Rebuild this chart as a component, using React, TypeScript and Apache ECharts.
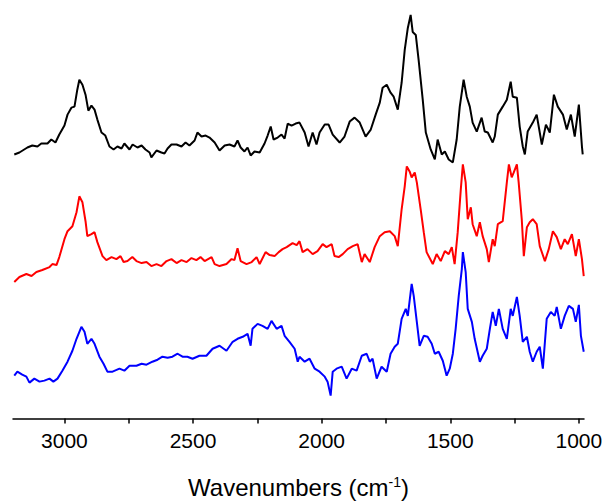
import React, { useEffect, useRef } from "react";
import * as echarts from "echarts";

const xTickValues = [3000, 2500, 2000, 1500, 1000];
const xAllTickValues = [3000, 2750, 2500, 2250, 2000, 1750, 1500, 1250, 1000];
const xAxisTitle = "Wavenumbers (cm{sup|-1})";

const blackWn = [3195,3175,3144,3125,3105,3090,3066,3051,3035,3020,
3000,2988,2973,2961,2950,2942,2930,2918,2907,2895,
2883,2872,2856,2841,2825,2809,2794,2778,2767,2747,
2735,2716,2700,2685,2669,2662,2642,2623,2611,2599,
2584,2564,2545,2529,2514,2494,2483,2467,2451,2436,
2416,2397,2377,2358,2339,2327,2315,2300,2288,2276,
2261,2241,2222,2210,2198,2187,2171,2156,2144,2132,
2117,2101,2086,2066,2051,2035,2020,2008,1988,1973,
1957,1930,1911,1891,1872,1852,1829,1809,1790,1774,
1763,1747,1732,1720,1704,1689,1677,1665,1654,1646,
1634,1623,1607,1595,1576,1560,1549,1533,1521,1506,
1490,1475,1463,1448,1436,1424,1413,1397,1378,1366,
1354,1335,1327,1315,1296,1280,1265,1257,1241,1230,
1218,1210,1199,1179,1164,1144,1128,1113,1097,1082,
1062,1047,1031,1016,1000,988,985];
const blackAbs = [265,267,272,274,273,276,276,280,277,285,
294,305,312,313,330,340,335,325,309,314,
310,300,287,284,273,270,273,271,276,270,
275,272,274,270,267,262,269,267,266,271,
275,275,273,277,274,279,287,283,284,282,
277,269,274,275,273,279,272,268,272,264,
268,267,276,284,293,280,282,285,281,296,
294,296,297,287,273,287,275,287,295,295,
285,277,283,298,302,297,283,290,305,317,
332,335,327,323,310,337,370,392,405,388,
385,360,320,287,270,260,280,265,268,260,
257,280,313,340,323,313,297,288,302,288,
287,277,283,305,313,320,338,323,322,293,
273,265,288,297,305,275,295,287,325,313,
305,290,305,283,315,273,265];

const redWn = [3195,3175,3148,3128,3109,3086,3058,3047,3031,3020,
3000,2988,2969,2953,2942,2930,2918,2911,2895,2883,
2872,2852,2837,2817,2798,2782,2770,2755,2736,2720,
2700,2681,2662,2642,2623,2603,2584,2564,2545,2525,
2506,2487,2471,2455,2428,2416,2397,2370,2350,2339,
2327,2315,2292,2272,2253,2241,2218,2202,2183,2167,
2152,2136,2113,2097,2086,2074,2055,2035,2016,1996,
1981,1961,1950,1934,1918,1899,1879,1860,1844,1833,
1813,1794,1774,1755,1735,1716,1704,1689,1677,1669,
1658,1650,1638,1630,1615,1603,1592,1568,1553,1537,
1521,1506,1494,1483,1471,1459,1451,1440,1432,1420,
1413,1397,1385,1374,1358,1350,1335,1327,1315,1296,
1280,1272,1261,1253,1241,1234,1222,1214,1202,1191,
1179,1164,1152,1132,1117,1101,1086,1070,1055,1043,
1027,1012,1000,988,981];
const redAbs = [137,142,145,143,147,149,152,155,154,162,
180,188,193,207,223,217,198,183,185,187,
177,163,159,162,160,163,157,158,162,158,
156,157,153,155,153,158,160,156,159,157,
161,159,162,158,162,155,153,155,160,159,
171,158,155,157,162,155,167,164,163,167,
170,172,176,174,178,167,170,165,168,175,
172,175,163,162,165,170,173,175,157,165,
157,172,183,187,188,183,173,210,233,253,
248,242,247,237,210,187,167,155,165,158,
168,165,172,155,187,230,255,237,200,212,
195,183,197,183,170,157,180,173,195,198,
237,255,242,247,255,237,200,163,192,197,
200,195,173,158,170,188,182,170,180,175,
185,163,180,160,143];

const blueWn = [3195,3183,3164,3148,3136,3117,3097,3078,3058,3043,
3027,3008,2988,2969,2953,2934,2922,2911,2895,2883,
2864,2848,2833,2813,2786,2767,2747,2720,2700,2681,
2658,2638,2619,2599,2580,2560,2541,2522,2502,2475,
2448,2424,2397,2370,2346,2327,2307,2288,2276,2269,
2249,2230,2210,2195,2175,2156,2144,2125,2105,2093,
2086,2066,2047,2027,2008,1988,1977,1965,1957,1942,
1922,1903,1883,1864,1844,1825,1813,1802,1786,1767,
1747,1732,1716,1704,1689,1673,1665,1650,1642,1630,
1619,1603,1588,1572,1560,1545,1529,1514,1502,1490,
1479,1467,1455,1451,1440,1432,1416,1405,1385,1374,
1358,1346,1335,1323,1311,1296,1280,1265,1257,1241,
1230,1218,1202,1191,1179,1164,1152,1140,1125,1109,
1094,1086,1070,1055,1039,1023,1012,1000,992,981];
const blueAbs = [43,47,44,42,36,40,37,38,40,37,
40,48,57,68,80,92,87,75,80,75,
62,55,47,47,50,48,53,53,55,54,
57,59,62,61,62,65,62,62,60,63,
63,70,73,68,77,80,82,85,73,90,
95,93,90,98,90,93,83,77,70,57,
62,57,60,50,47,42,37,23,47,50,
52,40,50,48,63,65,57,60,40,52,
47,65,72,75,100,110,103,135,123,97,
73,83,82,75,65,67,58,43,50,65,
90,123,150,167,147,110,97,80,57,63,
70,90,107,93,110,90,80,110,103,122,
103,77,82,67,57,67,72,50,100,107,
103,112,90,103,113,110,97,114,83,67];

const FONT = "'Liberation Sans', Arial, sans-serif";

function zip(w: number[], a: number[]) {
  return w.map((x, i) => [x, a[i]]);
}

export default function App() {
  const ref = useRef<HTMLDivElement>(null);
  useEffect(() => {
    if (!ref.current) return;
    const chart = echarts.init(ref.current, null, { renderer: "svg" });
    const lineSeries = (name: string, color: string, w: number[], a: number[]) => ({
      name,
      type: "line",
      data: zip(w, a),
      showSymbol: false,
      symbol: "none",
      lineStyle: { color, width: 2 },
      itemStyle: { color },
    });
    chart.setOption({
      animation: false,
      backgroundColor: "#ffffff",
      grid: { left: 13, right: 23, top: 10, bottom: 84 },
      xAxis: {
        type: "value",
        inverse: true,
        min: 980,
        max: 3200,
        position: "bottom",
        axisLine: { show: true, onZero: false, lineStyle: { color: "#000", width: 1.5 } },
        axisTick: { show: true, customValues: xAllTickValues, length: 5, lineStyle: { color: "#000", width: 1.5 } },
        axisLabel: {
          show: true,
          customValues: xAllTickValues,
          formatter: (v: number) => (xTickValues.indexOf(v) >= 0 ? String(v) : ""),
          fontSize: 21,
          color: "#000",
          margin: 11,
          fontFamily: FONT,
        },
        splitLine: { show: false },
        name: xAxisTitle,
        nameLocation: "middle",
        nameGap: 56,
        nameTextStyle: {
          fontSize: 24,
          color: "#000",
          fontFamily: FONT,
          rich: {
            sup: { fontSize: 14, color: "#000", fontFamily: FONT, verticalAlign: "top", padding: [0, 0, 11, 0] },
          },
        },
      },
      yAxis: { type: "value", min: 0, max: 410, show: false, splitLine: { show: false } },
      series: [
        lineSeries("black", "#000000", blackWn, blackAbs),
        lineSeries("red", "#ff0000", redWn, redAbs),
        lineSeries("blue", "#0000ff", blueWn, blueAbs),
      ],
    });
    return () => chart.dispose();
  }, []);
  return <div ref={ref} style={{ position: "absolute", left: 0, top: 0, width: 607, height: 504 }} />;
}
